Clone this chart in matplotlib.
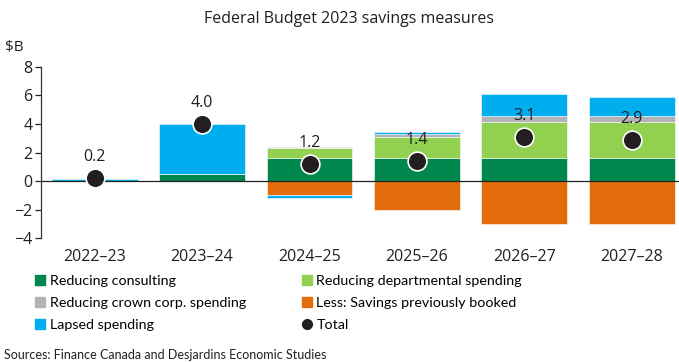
import numpy as np
import matplotlib.pyplot as plt
from matplotlib.lines import Line2D

plt.rcParams['font.family'] = ['Open Sans', 'DejaVu Sans']
NARROW = ['Lato', 'DejaVu Sans']

years = ['2022–23', '2023–24', '2024–25', '2025–26', '2026–27', '2027–28']
consulting = [0.0, 0.5, 1.65, 1.65, 1.65, 1.65]
departmental = [0.0, 0.0, 0.65, 1.4, 2.45, 2.45]
crown_corp = [0.0, 0.0, 0.1, 0.25, 0.45, 0.45]
previously_booked = [0.0, 0.0, -1.0, -2.0, -3.0, -3.0]
lapsed = [0.15, 3.5, -0.2, 0.1, 1.55, 1.35]
total = [0.2, 4.0, 1.2, 1.4, 3.1, 2.9]

series = [
    ('Reducing consulting', consulting, '#00874D'),
    ('Reducing departmental spending', departmental, '#92D050'),
    ('Reducing crown corp. spending', crown_corp, '#B2B3B5'),
    ('Less: Savings previously booked', previously_booked, '#E36C0A'),
    ('Lapsed spending', lapsed, '#00AEEF'),
]

fig = plt.figure(figsize=(6.79, 3.62), dpi=100)
ax = fig.add_axes([0.0604, 0.3417, 0.9396, 0.474])

x = np.arange(len(years))
pos_base = np.zeros(len(years))
neg_base = np.zeros(len(years))
for name, vals, col in series:
    vals = np.array(vals)
    bottoms = np.where(vals >= 0, pos_base, neg_base)
    ax.bar(x, vals, 0.8, bottom=bottoms, color=col, edgecolor='white', linewidth=0.4)
    pos_base += np.clip(vals, 0, None)
    neg_base += np.clip(vals, None, 0)

ax.axhline(0, color='#222222', lw=0.9)
ax.plot(x, total, 'o', ms=13.5, color='#231F20', mec='white', mew=1.2, zorder=5)
for xi, t in zip(x, total):
    ax.annotate(f'{t:.1f}', (xi, t), xytext=(0, 15), textcoords='offset points',
                ha='center', va='center', fontsize=11.5, color='#231F20', zorder=6)

ax.set_xlim(-0.5, 5.44)
ax.set_ylim(-4, 8)
ax.set_yticks(range(-4, 9, 2))
ax.set_xticks(x)
ax.set_xticklabels(years)
ax.tick_params(axis='x', length=0, labelsize=11.5, pad=8, colors='#231F20')
ax.tick_params(axis='y', length=4, width=0.9, labelsize=11.5, colors='#231F20', pad=2)
for s in ['top', 'right', 'bottom']:
    ax.spines[s].set_visible(False)
ax.spines['left'].set_color('#333333')
ax.spines['left'].set_linewidth(0.9)

fig.text(0.514, 0.948, 'Federal Budget 2023 savings measures', ha='center', va='center',
         fontsize=11.5, color='#231F20')
fig.text(0.008, 0.87, '$B', ha='left', va='center', fontsize=11, color='#231F20')

# two legend columns, placed separately (fig.legend already attaches each one)
def make_handle(col, marker='s'):
    return Line2D([], [], marker=marker, ls='none', ms=7, color=col)

left_idx = [0, 2, 4]
right_idx = [1, 3]
leg_kw = dict(loc='upper left', frameon=False, prop={'family': NARROW, 'size': 10.3},
              handlelength=0.6, handletextpad=0.35, labelspacing=0.68,
              borderpad=0, borderaxespad=0)
fig.legend([make_handle(series[i][2]) for i in left_idx],
           [series[i][0] for i in left_idx], bbox_to_anchor=(0.053, 0.24), **leg_kw)
fig.legend([make_handle(series[i][2]) for i in right_idx] + [make_handle('#231F20', 'o')],
           [series[i][0] for i in right_idx] + ['Total'],
           bbox_to_anchor=(0.446, 0.24), **leg_kw)

fig.text(0.006, 0.02, 'Sources: Finance Canada and Desjardins Economic Studies',
         ha='left', va='center', fontsize=9, family=NARROW, color='#231F20')

fig.savefig('out.png', dpi=100)
